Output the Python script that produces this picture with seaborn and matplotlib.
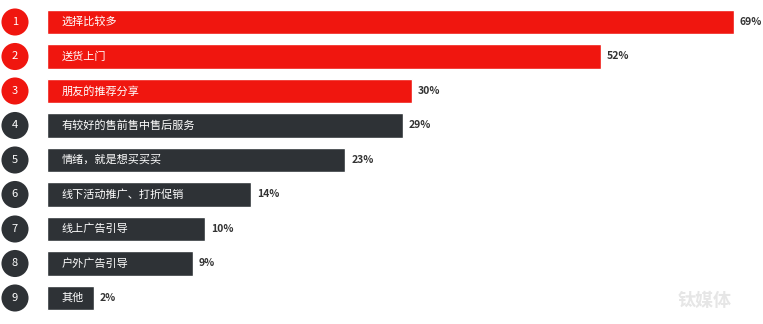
import numpy as np
import pandas as pd
import matplotlib
matplotlib.use("Agg")
import matplotlib.pyplot as plt
import matplotlib.transforms as mtransforms
import seaborn as sns

categories = ["选择比较多", "送货上门", "朋友的推荐分享", "有较好的售前售中售后服务",
              "情绪，就是想买买买", "线下活动推广、打折促销", "线上广告引导", "户外广告引导", "其他"]
values = [69, 52, 30, 29, 23, 14, 10, 9, 2]
ranks = ["1", "2", "3", "4", "5", "6", "7", "8", "9"]

RED = "#F0160F"
DARK = "#2E3236"
colors = [RED] * 3 + [DARK] * 6

sns.set_theme(style="white")
plt.rcParams["font.family"] = ["Noto Sans CJK SC", "DejaVu Sans"]

W, H = 763, 324
fig = plt.figure(figsize=(W / 100, H / 100), dpi=100)
ax = fig.add_axes([47 / W, 0, 1 - 47 / W, 1])

df = pd.DataFrame({"cat": categories, "val": values})
sns.barplot(data=df, y="cat", x="val", hue="cat", palette=colors, orient="h",
            width=0.70, legend=False, ax=ax, saturation=1)

p = 0.76
ax.set_xscale("function", functions=(lambda x: np.sign(x) * np.abs(x) ** p,
                                     lambda y: np.sign(y) * np.abs(y) ** (1 / p)))
ax.set_xlim(0, 72.86)
step = 34.5
ax.set_ylim((H - 22) / step, -22 / step)
ax.axis("off")

trans_label = mtransforms.offset_copy(ax.transData, fig=fig, x=15, y=0, units="dots")
tv = mtransforms.offset_copy(ax.transData, fig=fig, x=6, y=0, units="dots")
for i, (c, v) in enumerate(zip(categories, values)):
    ax.text(0, i, c, transform=trans_label, color="white", fontsize=8,
            va="center", ha="left")
    ax.text(v, i, f"{v}%", transform=tv, color="#333333", fontsize=7.5,
            fontweight="bold", va="center", ha="left", clip_on=False)

blend = mtransforms.blended_transform_factory(fig.transFigure, ax.transData)
ax.scatter([15 / W] * len(ranks), range(len(ranks)), s=380, c=colors,
           transform=blend, clip_on=False, zorder=5, linewidths=0)
for i, r in enumerate(ranks):
    ax.text(15 / W, i, r, transform=blend, color="white", fontsize=8,
            ha="center", va="center", zorder=6, clip_on=False)

fig.text(705 / W, 1 - 300 / H, "钛媒体", color="#E6E6E6", fontsize=13,
         fontweight="bold", ha="center", va="center")

fig.savefig("out.png", dpi=100, facecolor="white")
